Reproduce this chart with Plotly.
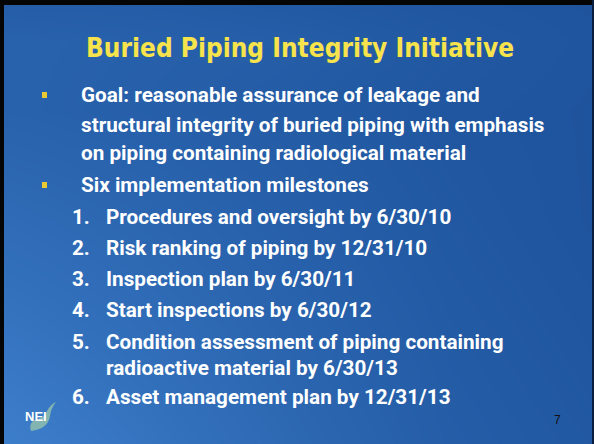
import plotly.graph_objects as go

title = "Buried Piping Integrity Initiative"
bullets = [
    ["Goal: reasonable assurance of leakage and",
     "structural integrity of buried piping with emphasis",
     "on piping containing radiological material"],
    ["Six implementation milestones"],
]
milestone_nums = ["1.", "2.", "3.", "4.", "5.", "6."]
milestones = [
    ["Procedures and oversight by 6/30/10"],
    ["Risk ranking of piping by 12/31/10"],
    ["Inspection plan by 6/30/11"],
    ["Start inspections by 6/30/12"],
    ["Condition assessment of piping containing",
     "radioactive material by 6/30/13"],
    ["Asset management plan by 12/31/13"],
]
page_number = "7"
logo_text = "NEI"

W, H = 594, 444
BODY_FONT = "Roboto, DejaVu Sans Condensed, sans-serif"
TITLE_FONT = "DejaVu Sans Condensed, Verdana, DejaVu Sans, sans-serif"

fig = go.Figure()

# background gradient
gx = [4, 150, 300, 450, 592]
gy = [5, 40, 110, 220, 330, 444]
gz = [
    [0.30, 0.28, 0.22, 0.15, 0.10],
    [0.40, 0.36, 0.30, 0.20, 0.12],
    [0.40, 0.33, 0.25, 0.15, 0.10],
    [0.60, 0.48, 0.33, 0.20, 0.10],
    [0.80, 0.62, 0.42, 0.25, 0.15],
    [1.00, 0.78, 0.52, 0.30, 0.20],
]
fig.add_trace(go.Heatmap(x=gx, y=gy, z=gz, zsmooth="best", showscale=False,
                         hoverinfo="skip",
                         colorscale=[[0, "#1b4f98"], [1, "#3d7ecb"]],
                         zmin=0, zmax=1))

annotations = []
shapes = []

annotations.append(dict(x=300, y=48, text="<b>%s</b>" % title, showarrow=False,
                        xanchor="center", yanchor="middle",
                        font=dict(family=TITLE_FONT, size=26, color="#f7e34b")))

body_size = 20.7
bullet_rows = [[95, 125, 153], [185]]
for para, rows in zip(bullets, bullet_rows):
    shapes.append(dict(type="rect", x0=42, x1=47, y0=rows[0] - 3, y1=rows[0] + 3,
                       fillcolor="#ecc931", line=dict(width=0)))
    for line, yy in zip(para, rows):
        annotations.append(dict(x=79, y=yy, text="<b>%s</b>" % line, showarrow=False,
                                xanchor="left", yanchor="middle",
                                font=dict(family=BODY_FONT, size=body_size, color="white")))

milestone_rows = [[217], [248], [279], [310], [342, 368], [397]]
for num, para, rows in zip(milestone_nums, milestones, milestone_rows):
    annotations.append(dict(x=70, y=rows[0], text="<b>%s</b>" % num, showarrow=False,
                            xanchor="left", yanchor="middle",
                            font=dict(family=BODY_FONT, size=body_size, color="white")))
    for line, yy in zip(para, rows):
        annotations.append(dict(x=104, y=yy, text="<b>%s</b>" % line, showarrow=False,
                                xanchor="left", yanchor="middle",
                                font=dict(family=BODY_FONT, size=body_size, color="white")))

annotations.append(dict(x=557, y=420, text=page_number, showarrow=False,
                        xanchor="center", yanchor="middle",
                        font=dict(family="Liberation Sans, Arial, sans-serif", size=12, color="#111111")))

# logo swoosh
shapes.append(dict(type="path",
                   path="M 31 431 Q 28 421 38 419 Q 45 417 47 411 Q 51 404 56 402 Q 51 408 50 416 Q 48 429 31 431 Z",
                   fillcolor="#8fbfae", line=dict(width=0), opacity=0.85))
annotations.append(dict(x=36, y=416, text="<b>%s</b>" % logo_text, showarrow=False,
                        xanchor="center", yanchor="middle",
                        font=dict(family="Liberation Sans, Arial, sans-serif", size=13, color="white")))

# black frame edges
shapes.append(dict(type="rect", x0=0, x1=W, y0=0, y1=5, fillcolor="#050505", line=dict(width=0)))
shapes.append(dict(type="rect", x0=0, x1=4, y0=0, y1=H, fillcolor="#050505", line=dict(width=0)))
shapes.append(dict(type="rect", x0=592, x1=W, y0=0, y1=H, fillcolor="#0a1f40", line=dict(width=0)))

fig.update_layout(
    width=W, height=H,
    margin=dict(l=0, r=0, t=0, b=0),
    paper_bgcolor="#2a62ae", plot_bgcolor="#2a62ae",
    xaxis=dict(range=[0, W], visible=False, fixedrange=True),
    yaxis=dict(range=[H, 0], visible=False, fixedrange=True),
    annotations=annotations, shapes=shapes, showlegend=False,
)
fig.write_html("out.html", config={"displayModeBar": False},
               post_script="document.body.style.margin='0';document.body.style.overflow='hidden';")
